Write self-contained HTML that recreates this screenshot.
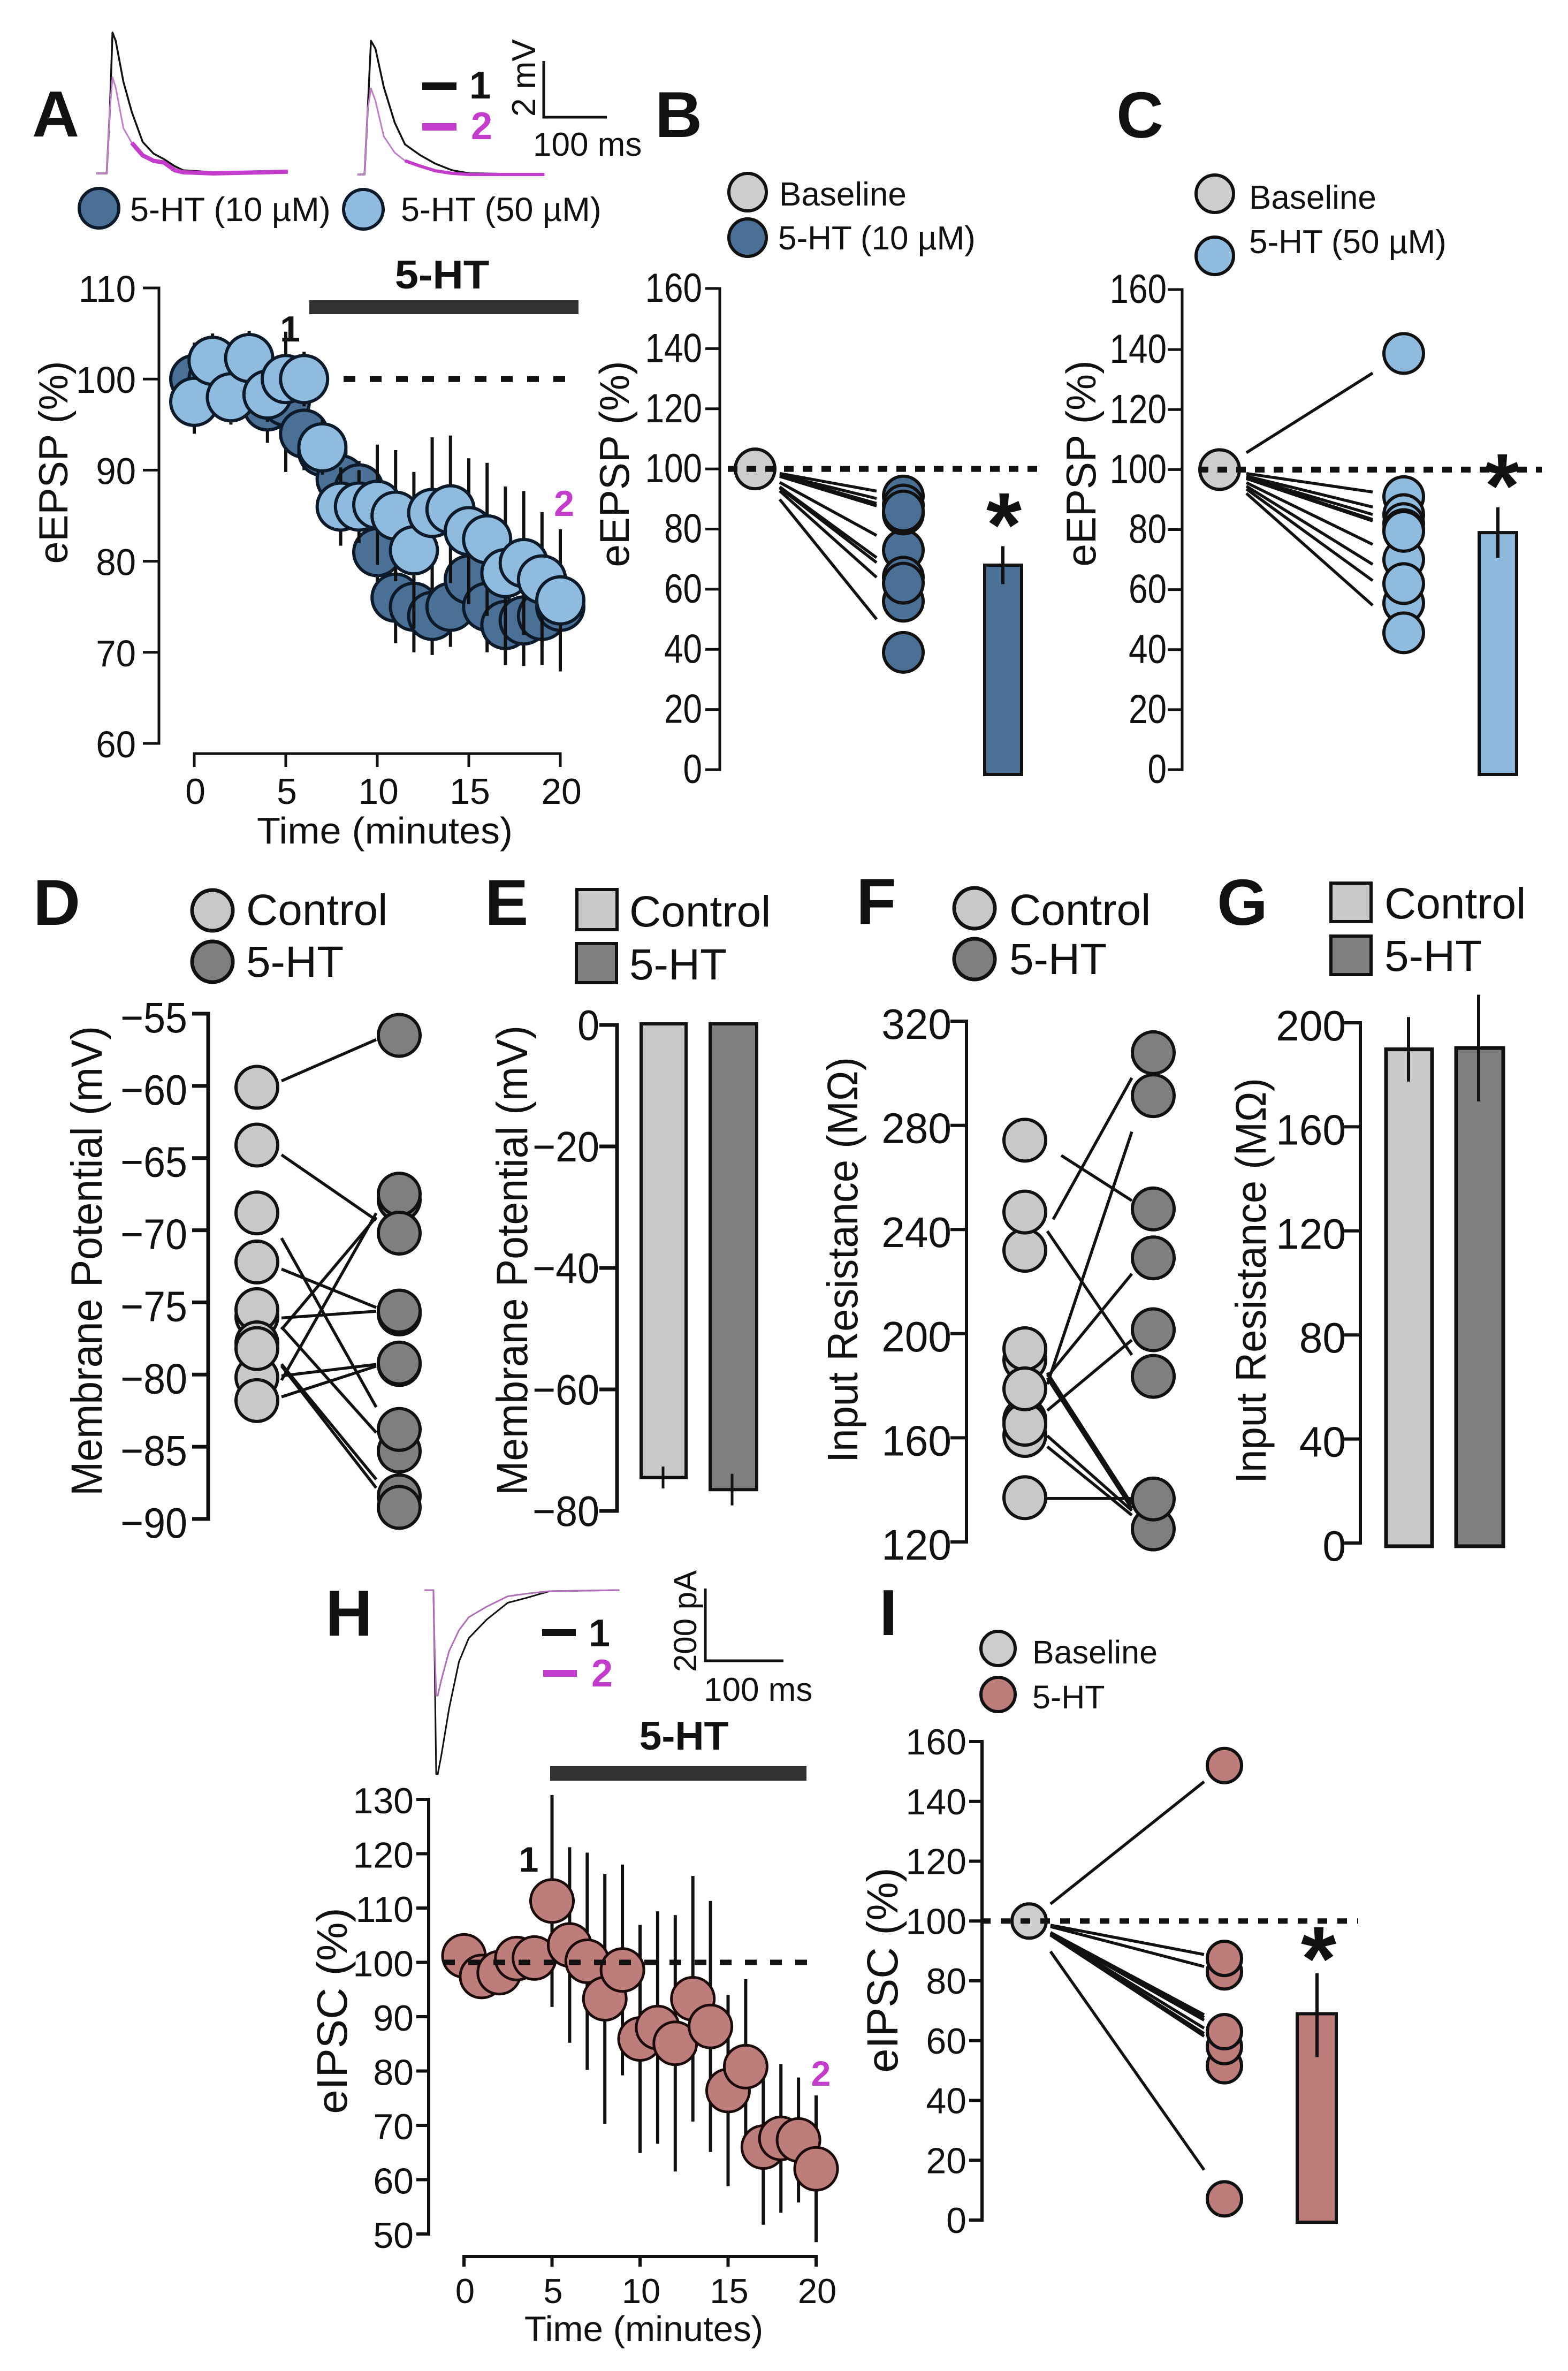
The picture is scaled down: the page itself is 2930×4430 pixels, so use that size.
<!DOCTYPE html>
<html lang="en">
<head>
<meta charset="utf-8">
<title>5-HT effects on eEPSP, membrane properties and eIPSC</title>
<style>
html,body{margin:0;padding:0;background:#fff}
svg{display:block}
text{font-family:"Liberation Sans",Arial,sans-serif;fill:#111}
.b{font-weight:700}
.m{fill:#c43ccb;font-weight:700}
.r{text-anchor:middle}
</style>
</head>
<body>
<svg id="fig" xmlns="http://www.w3.org/2000/svg" width="2930" height="4430" viewBox="0 0 2930 4430">
<rect width="2930" height="4430" fill="#fff"/>

<!-- panel letters -->
<text class="b" font-size="122" x="60" y="255">A</text>
<text class="b" font-size="122" x="1224" y="256">B</text>
<text class="b" font-size="122" x="2086" y="257">C</text>
<text class="b" font-size="122" x="62" y="1728">D</text>
<text class="b" font-size="122" x="906" y="1728">E</text>
<text class="b" font-size="122" x="1600" y="1726">F</text>
<text class="b" font-size="122" x="2274" y="1728">G</text>
<text class="b" font-size="122" x="608" y="3056">H</text>
<text class="b" font-size="122" x="1643" y="3055">I</text>

<!-- panel A static -->
<g>
<circle cx="185" cy="389" r="37" fill="#4a7096" stroke="#0d1a2a" stroke-width="6"/>
<text font-size="63" x="243" y="413">5-HT (10 µM)</text>
<circle cx="679" cy="391" r="37" fill="#8fbbdf" stroke="#0d1a2a" stroke-width="6"/>
<text font-size="63" x="749" y="413">5-HT (50 µM)</text>
</g>
<rect x="578" y="561" width="503" height="26" fill="#333"/>
<text class="b r" font-size="75" transform="translate(826 539) scale(1.06 1)">5-HT</text>
<text class="b r" font-size="68" x="542" y="638">1</text>
<text class="m r" font-size="68" x="1054" y="964">2</text>
<text font-size="76" transform="translate(126 864) rotate(-90) scale(0.99 1)" class="r">eEPSP (%)</text>
<text font-size="70" transform="translate(719 1576) scale(1.03 1)" class="r">Time (minutes)</text>
<rect x="789" y="154" width="64" height="14" fill="#111"/>
<text class="b r" font-size="72" x="897" y="184">1</text>
<rect x="789" y="230" width="64" height="14" fill="#c43ccb"/>
<text class="m r" font-size="72" x="900" y="260">2</text>
<path d="M1016 114V219H1134" fill="none" stroke="#111" stroke-width="5"/>
<text font-size="62" transform="translate(1000 218) rotate(-90)">2 mV</text>
<text font-size="62" x="996" y="291">100 ms</text>

<!-- panel B static -->
<g>
<circle cx="1397" cy="359" r="35" fill="#cdcdcd" stroke="#111" stroke-width="6"/>
<text font-size="62" x="1456" y="384">Baseline</text>
<circle cx="1397" cy="444" r="35" fill="#4a7096" stroke="#111" stroke-width="6"/>
<text font-size="62" x="1454" y="466">5-HT (10 µM)</text>
</g>
<text font-size="78" transform="translate(1175 867) rotate(-90) scale(0.98 1)" class="r">eEPSP (%)</text>

<!-- panel C static -->
<g>
<circle cx="2270" cy="362" r="35" fill="#cdcdcd" stroke="#111" stroke-width="6"/>
<text font-size="62" x="2334" y="390">Baseline</text>
<circle cx="2270" cy="478" r="35" fill="#8fbbdf" stroke="#111" stroke-width="6"/>
<text font-size="62" x="2334" y="473">5-HT (50 µM)</text>
</g>
<text font-size="78" transform="translate(2047 866) rotate(-90) scale(0.98 1)" class="r">eEPSP (%)</text>

<!-- panel D static -->
<g>
<circle cx="397" cy="1701" r="38" fill="#c8c8c8" stroke="#111" stroke-width="7"/>
<text font-size="82" x="460" y="1728">Control</text>
<circle cx="397" cy="1797" r="38" fill="#7f7f7f" stroke="#111" stroke-width="7"/>
<text font-size="82" x="460" y="1825">5-HT</text>
</g>
<text font-size="82" transform="translate(190 2356) rotate(-90) scale(0.94 1)" class="r">Membrane Potential (mV)</text>

<!-- panel E static -->
<g>
<rect x="1078" y="1662" width="75" height="75" fill="#c8c8c8" stroke="#111" stroke-width="6"/>
<text font-size="82" x="1176" y="1731">Control</text>
<rect x="1077" y="1763" width="75" height="73" fill="#7f7f7f" stroke="#111" stroke-width="6"/>
<text font-size="82" x="1176" y="1830">5-HT</text>
</g>
<text font-size="82" transform="translate(985 2355) rotate(-90) scale(0.94 1)" class="r">Membrane Potential (mV)</text>

<!-- panel F static -->
<g>
<circle cx="1821" cy="1697" r="38" fill="#c8c8c8" stroke="#111" stroke-width="7"/>
<text font-size="82" x="1886" y="1728">Control</text>
<circle cx="1821" cy="1792" r="38" fill="#7f7f7f" stroke="#111" stroke-width="7"/>
<text font-size="82" x="1886" y="1820">5-HT</text>
</g>
<text font-size="80" transform="translate(1602 2354) rotate(-90) scale(0.95 1)" class="r">Input Resistance (MΩ)</text>

<!-- panel G static -->
<g>
<rect x="2487" y="1650" width="75" height="72" fill="#c8c8c8" stroke="#111" stroke-width="6"/>
<text font-size="82" x="2587" y="1716">Control</text>
<rect x="2487" y="1749" width="75" height="72" fill="#7f7f7f" stroke="#111" stroke-width="6"/>
<text font-size="82" x="2587" y="1814">5-HT</text>
</g>
<text font-size="80" transform="translate(2365 2393) rotate(-90) scale(0.95 1)" class="r">Input Resistance (MΩ)</text>

<!-- panel H static -->
<rect x="1028" y="3300" width="479" height="27" fill="#333"/>
<text class="b r" font-size="75" x="1278" y="3269">5-HT</text>
<text class="b r" font-size="66" x="988" y="3497">1</text>
<text class="m r" font-size="66" x="1534" y="3897">2</text>
<text font-size="80" transform="translate(648 3757) rotate(-90) scale(1.02 1)" class="r">eIPSC (%)</text>
<text font-size="66" transform="translate(1203 4374) scale(1.02 1)" class="r">Time (minutes)</text>
<rect x="1013" y="3044" width="63" height="13" fill="#111"/>
<text class="b r" font-size="72" x="1120" y="3076">1</text>
<rect x="1015" y="3120" width="63" height="13" fill="#c43ccb"/>
<text class="m r" font-size="72" x="1125" y="3151">2</text>
<path d="M1318 2968V3103H1464" fill="none" stroke="#111" stroke-width="5"/>
<text font-size="60" transform="translate(1301 3124) rotate(-90)">200 pA</text>
<text font-size="62" x="1315" y="3178">100 ms</text>

<!-- panel I static -->
<g>
<circle cx="1865" cy="3080" r="32" fill="#cdcdcd" stroke="#111" stroke-width="6"/>
<text font-size="61" x="1929" y="3108">Baseline</text>
<circle cx="1865" cy="3166" r="32" fill="#bc7d7b" stroke="#111" stroke-width="6"/>
<text font-size="61" x="1929" y="3192">5-HT</text>
</g>
<text font-size="82" transform="translate(1677 3681) rotate(-90) scale(0.99 1)" class="r">eIPSC (%)</text>
</svg>

<script>
/* ---------- Panel A ---------- */
const aMinutes = [0,1,2,3,4,5,6,7,8,9,10,11,12,13,14,15,16,17,18,19,20];
const aDarkValues = [100,100,100,100,97,97.5,94,92,89,88,81,76,75,74,75,78,75,73,73.5,74,75];
const aDarkErrors = [4,4,4,4,4,7.7,4,3,3,3,4,5,5,4.3,4.4,4,5,4.4,5,5.4,5];
const aLightValues = [97.5,102,98,102.3,98.3,100,100,92.5,86,86,86.2,85,81.2,85.3,85.7,83.3,82.4,78.7,79.8,78,75.7];
const aLightErrors = [3.5,3,3,3,3,3,3,3,4.3,4,6.6,7.2,8.6,8.3,8.1,8,8.4,9.5,7.9,7.4,7.8];
const aYTicks = [60,70,80,90,100,110];
const aXTicks = [0,5,10,15,20];
const aTrace1Ms = [0,17,22,26,31,43,56,73,90,106,123,136,183,299];
const aTrace1Black = [0,0,2.25,4.92,4.63,3.2,2.15,1.1,0.69,0.5,0.25,0.11,0.04,0.06];
const aTrace1Magenta = [0,0,2.25,3.36,3,1.58,1.07,0.63,0.44,0.38,0.11,0.04,0,0.06];
const aTrace2Ms = [0,11,16,21,28,41,58,74,98,121,147,174,291];
const aTrace2Black = [0,0,2.29,4.67,4.39,3.05,1.81,1.05,0.67,0.38,0.15,0.04,0];
const aTrace2Magenta = [0,0,2.29,3.01,2.57,1.33,0.76,0.48,0.29,0.13,0.04,0,0];

/* ---------- Panel B ---------- */
const bYTicks = [0,20,40,60,80,100,120,140,160];
const bBaseline = 100;
const bTreated = [56,73,64,62,91,88,85,86,39];
const bMean = 68;
const bError = 6.3;

/* ---------- Panel C ---------- */
const cYTicks = [0,20,40,60,80,100,120,140,160];
const cBaseline = 100;
const cTreated = [138.7,55.5,70,62,45.6,91,85,82,80,79.4];
const cMean = 79;
const cError = 8.4;

/* ---------- Panel D ---------- */
const dYTicks = [-90,-85,-80,-75,-70,-65,-60,-55];
const dControl = [-60.1,-64.1,-68.8,-76,-75.5,-80.2,-77.8,-72.2,-78.2,-81.8];
const dTreated = [-56.5,-67.9,-67.5,-70.2,-75.8,-75.6,-79.3,-79.2,-85.3,-83.8,-88.4,-89.2];
const dLinePre = [-60.4,-63.6,-67.5,-72,-76.2,-78.9,-74.8,-83.4,-80.3,-82.1,-77.2,-77.2];
const dLinePost = [-56.1,-70.4,-85.1,-76,-75.5,-67.2,-85.8,-66,-79.1,-78.9,-89.2,-89.9];

/* ---------- Panel E ---------- */
const eYTicks = [-80,-60,-40,-20,0];
const eMeans = [-74.5,-76.5];
const eErrors = [1.8,2.6];

/* ---------- Panel F ---------- */
const fYTicks = [120,160,200,240,280,320];
const fControl = [274.3,232,246.7,189.9,194.2,160.9,167,165.2,178.8,137];
const fTreated = [125,136.5,183.6,201.5,229.1,247.9,291.4,307.9];
const fLinePre = [224.3,277.4,252,154.8,172.9,163.3,198.4,196.4,168.4,163.6,136.7];
const fLinePost = [313,245.8,179.8,302.1,233,204.4,121.7,120,124.8,123.6,136.7];

/* ---------- Panel G ---------- */
const gYTicks = [0,40,80,120,160,200];
const gMeans = [189.8,190.3];
const gErrors = [12.4,20.5];

/* ---------- Panel H ---------- */
const hMinutes = [0,1,2,3,4,5,6,7,8,9,10,11,12,13,14,15,16,17,18,19,20];
const hValues = [101.2,97.4,98.1,100.7,100.8,111.3,103.2,100.2,93.3,98.6,85.9,88,85.1,93.3,88.2,76.4,80.8,66,67.6,67.3,62];
const hErrors = [3,2,3,3,3,19.5,18,20,23,19.4,21,21.4,23.6,22.6,23.1,17.6,16.1,14.3,13.7,11.5,13.5];
const hYTicks = [50,60,70,80,90,100,110,120,130];
const hXTicks = [0,5,10,15,20];
const hTraceMs = [0,11.5,13,15,17,21.5,31.4,44,56.4,79,106,129,159,248];
const hTraceBlack = [0,0,-184,-509,-509,-458,-328,-198,-133,-82,-35,-22,-3,0];
const hTraceMagenta = [0,0,-155,-292,-292,-249,-169,-111,-75,-46,-17,-10,-3,0];

/* ---------- Panel I ---------- */
const iYTicks = [0,20,40,60,80,100,120,140,160];
const iBaseline = 100;
const iTreated = [152,83,87.5,51.6,58,63,7.1];
const iLineEnds = [152,87.5,83,65,64,63,60,58,57,7.1];
const iMean = 69;
const iError = 14;

/* ---------- helpers ---------- */
const svg = document.getElementById('fig');
const NS = 'http://www.w3.org/2000/svg';
const INK = '#111';

function linear(d0, d1, r0, r1) {
  return function (v) { return r0 + (v - d0) * (r1 - r0) / (d1 - d0); };
}
function make(tag, attrs) {
  const n = document.createElementNS(NS, tag);
  for (const k in attrs) n.setAttribute(k, attrs[k]);
  svg.appendChild(n);
  return n;
}
function label(str, x, y, size, anchor, sx) {
  const n = make('text', {'font-size': size, 'text-anchor': anchor, transform: 'translate(' + x + ' ' + y + ') scale(' + sx + ' 1)'});
  n.textContent = str;
  return n;
}
function tickText(v) { return v < 0 ? '\u2212' + Math.abs(v) : String(v); }

function yAxis(x, y, ticks, tickLen, labelX, baseOff, size, sx, width) {
  const lo = Math.min.apply(null, ticks), hi = Math.max.apply(null, ticks);
  const spine = make('line', {x1: x, x2: x, y1: y(hi) - width / 2, y2: y(lo) + width / 2, stroke: INK, 'stroke-width': width});
  
  
  ticks.forEach(function (t) {
    const mark = make('line', {x1: x - tickLen, x2: x, y1: y(t), y2: y(t), stroke: INK, 'stroke-width': width});
    
    
    const txt = label(tickText(t), labelX, y(t) + baseOff, size, 'end', sx);
    
    
  });
}
function xAxis(y0, x, ticks, tickLen, labelY, size, width) {
  const lo = Math.min.apply(null, ticks), hi = Math.max.apply(null, ticks);
  const spine = make('line', {x1: x(lo) - width / 2, x2: x(hi) + width / 2, y1: y0, y2: y0, stroke: INK, 'stroke-width': width});
  
  
  ticks.forEach(function (t) {
    const mark = make('line', {x1: x(t), x2: x(t), y1: y0, y2: y0 + tickLen, stroke: INK, 'stroke-width': width});
    
    
    const txt = label(String(t), x(t) + 2, labelY, size, 'middle', 1);
    
    
  });
}
function errorBar(cx, y, value, err, width) {
  const bar = make('line', {x1: cx, x2: cx, y1: y(value + err), y2: y(value - err), stroke: INK, 'stroke-width': width});
  
  
}
function dot(cx, cy, r, fill, sw, stroke) {
  const c = make('circle', {cx: cx, cy: cy, r: r, fill: fill, stroke: stroke || INK, 'stroke-width': sw});
  
  
}
function dashed(x1, x2, yPos, dash, gap, width) {
  const d = make('line', {x1: x1, x2: x2, y1: yPos, y2: yPos, stroke: INK, 'stroke-width': width, 'stroke-dasharray': dash + ' ' + gap});
  
  
}
function bar(x0, x1, yTop, yBottom, fill, sw) {
  const r = make('rect', {x: x0, y: Math.min(yTop, yBottom), width: x1 - x0, height: Math.abs(yBottom - yTop), fill: fill, stroke: INK, 'stroke-width': sw});
  
  
}
function star(x, baseline) {
  const s = make('text', {'font-size': 170, 'font-weight': 700, 'text-anchor': 'middle', x: x, y: baseline});
  s.textContent = '*';
  
  
}
function pairLine(xA, xB, yA, yB, gapA, gapB, width) {
  const f = function (x) { return yA + (yB - yA) * (x - xA) / (xB - xA); };
  const sx = xA + gapA, ex = xB - gapB;
  const l = make('line', {x1: sx, y1: f(sx), x2: ex, y2: f(ex), stroke: INK, 'stroke-width': width});
  
  
}
function trace(x0, y0, pxT, pxV, times, vals, color, width, from) {
  const pts = [];
  for (let i = from; i < times.length; i++) pts.push((x0 + times[i] * pxT) + ',' + (y0 - vals[i] * pxV));
  const p = make('polyline', {points: pts.join(' '), fill: 'none', stroke: color, 'stroke-width': width, 'stroke-linejoin': 'round'});
  
  
}

const DARK = '#4a7096', LIGHT = '#8fbbdf', SALMON = '#bc7d7b', CTRL = '#c8c8c8', DRUG = '#7f7f7f', BASE = '#cdcdcd', MAG = '#c43ccb', NAVY = '#0d1a2a', PALE = '#c080c8';

/* ---------- draw A ---------- */
(function () {
  const y = linear(60, 110, 1389, 538);
  const x = linear(0, 20, 363, 1047);
  trace(179, 324, 1.2, 53.5, aTrace1Ms, aTrace1Black, INK, 3.5, 0);
  trace(179, 324, 1.2, 53.5, aTrace1Ms, aTrace1Magenta, PALE, 3, 0);
  trace(179, 324, 1.2, 53.5, aTrace1Ms, aTrace1Magenta, MAG, 8, 6);
  trace(668, 326, 1.2, 53.5, aTrace2Ms, aTrace2Black, INK, 3.5, 0);
  trace(668, 326, 1.2, 53.5, aTrace2Ms, aTrace2Magenta, PALE, 3, 0);
  trace(668, 326, 1.2, 53.5, aTrace2Ms, aTrace2Magenta, MAG, 6, 7);
  yAxis(297, y, aYTicks, 30, 254, 26, 70, 0.96, 5);
  xAxis(1408, x, aXTicks, 25, 1502, 68, 5);
  dashed(642, 1076, y(100), 22, 27, 11);
  aMinutes.forEach(function (m, i) { errorBar(x(m), y, aDarkValues[i], aDarkErrors[i], 6); });
  aMinutes.forEach(function (m, i) { dot(x(m), y(aDarkValues[i]), 44, DARK, 6, NAVY); });
  aMinutes.forEach(function (m, i) { errorBar(x(m), y, aLightValues[i], aLightErrors[i], 6); });
  aMinutes.forEach(function (m, i) { dot(x(m), y(aLightValues[i]), 44, LIGHT, 6, NAVY); });
})();

/* ---------- draw B ---------- */
(function () {
  const y = linear(0, 160, 1438, 539);
  yAxis(1345, y, bYTicks, 27, 1312, 25, 76, 0.84, 5);
  const base = 1411, col = 1688;
  bTreated.forEach(function (v) { pairLine(base, col, y(bBaseline), y(v), 46, 50, 5.5); });
  bTreated.forEach(function (v) { dot(col, y(v), 37, DARK, 6); });
  dot(base, y(bBaseline), 37, BASE, 6);
  dashed(1360, 1945, y(bBaseline), 18, 17, 11);
  bar(1840, 1909, y(bMean), 1447, DARK, 6);
  errorBar(1874, y, bMean, bError, 6);
  star(1876, 1039);
})();

/* ---------- draw C ---------- */
(function () {
  const y = linear(0, 160, 1438, 541);
  yAxis(2209, y, cYTicks, 27, 2180, 25, 76, 0.84, 5);
  const base = 2279, col = 2623;
  cTreated.forEach(function (v) { pairLine(base, col, y(cBaseline), y(v), 50, 58, 5.5); });
  cTreated.forEach(function (v) { dot(col, y(v), 37, LIGHT, 6); });
  dot(base, y(cBaseline), 37, BASE, 6);
  dashed(2240, 2881, y(cBaseline), 18, 17, 11);
  bar(2764, 2834, y(cMean), 1447, '#8db8dc', 6);
  errorBar(2799, y, cMean, cError, 6);
  star(2807, 966);
})();

/* ---------- draw D ---------- */
(function () {
  const y = linear(-55, -90, 1894, 2838);
  yAxis(389, y, dYTicks, 30, 350, 35, 80, 0.92, 7);
  const a = 480, b = 746;
  dLinePre.forEach(function (v, i) { pairLine(a, b, y(v), y(dLinePost[i]), 46, 43, 5.5); });
  dControl.forEach(function (v) { dot(a, y(v), 39, CTRL, 6); });
  dTreated.forEach(function (v) { dot(b, y(v), 39, DRUG, 6); });
})();

/* ---------- draw E ---------- */
(function () {
  const y = linear(0, -80, 1915, 2823);
  yAxis(1153, y, eYTicks, 33, 1120, 28, 80, 0.92, 7);
  bar(1198, 1282, 1913, y(eMeans[0]), CTRL, 6);
  bar(1327, 1414, 1913, y(eMeans[1]), DRUG, 6);
  errorBar(1239, y, eMeans[0], eErrors[0], 5);
  errorBar(1368, y, eMeans[1], eErrors[1], 5);
})();

/* ---------- draw F ---------- */
(function () {
  const y = linear(120, 320, 2881, 1908);
  yAxis(1806, y, fYTicks, 30, 1778, 33, 80, 0.98, 6);
  const a = 1915, b = 2155;
  fLinePre.forEach(function (v, i) {
    const startGap = i === 0 ? 53 : (i === 1 ? 68 : 42);
    pairLine(a, b, y(v), y(fLinePost[i]), startGap, 40, 5.5);
  });
  fControl.forEach(function (v) { dot(a, y(v), 39, CTRL, 6); });
  fTreated.forEach(function (v) { dot(b, y(v), 39, DRUG, 6); });
})();

/* ---------- draw G ---------- */
(function () {
  const y = linear(0, 200, 2883, 1911);
  yAxis(2542, y, gYTicks, 30, 2515, 33, 80, 0.98, 6);
  bar(2590, 2676, y(gMeans[0]), 2889, CTRL, 7);
  bar(2721, 2809, y(gMeans[1]), 2889, DRUG, 7);
  errorBar(2632, y, gMeans[0], gErrors[0], 6);
  errorBar(2763, y, gMeans[1], gErrors[1], 6);
})();

/* ---------- draw H ---------- */
(function () {
  const y = linear(50, 130, 4174, 3362);
  const x = linear(0, 20, 867, 1525);
  trace(793, 2971, 1.47, 0.675, hTraceMs, hTraceBlack, INK, 3, 0);
  trace(793, 2971, 1.47, 0.675, hTraceMs, hTraceMagenta, '#b070b8', 3, 0);
  yAxis(801, y, hYTicks, 23, 773, 26, 68, 1, 6);
  xAxis(4216, x, hXTicks, 19, 4303, 65, 6);
  hMinutes.forEach(function (m, i) { errorBar(x(m), y, hValues[i], hErrors[i], 6); });
  hMinutes.forEach(function (m, i) { dot(x(m), y(hValues[i]), 40, SALMON, 5, '#1a0a0a'); });
  dashed(828, 1532, y(100), 22, 25, 10);
})();

/* ---------- draw I ---------- */
(function () {
  const y = linear(0, 160, 4148, 3254);
  yAxis(1835, y, iYTicks, 24, 1806, 24, 68, 1, 6);
  const base = 1923, col = 2288;
  iLineEnds.forEach(function (v) { pairLine(base, col, y(iBaseline), y(v), 40, 38, 5.5); });
  iTreated.forEach(function (v) { dot(col, y(v), 32, SALMON, 6); });
  dot(base, y(iBaseline), 32, BASE, 6);
  dashed(1833, 2538, y(iBaseline), 18, 19, 10);
  bar(2424, 2497, y(iMean), 4152, SALMON, 6);
  errorBar(2461, y, iMean - 0.5, iError, 6);
  star(2464, 3718);
})();
</script>
</body>
</html>
